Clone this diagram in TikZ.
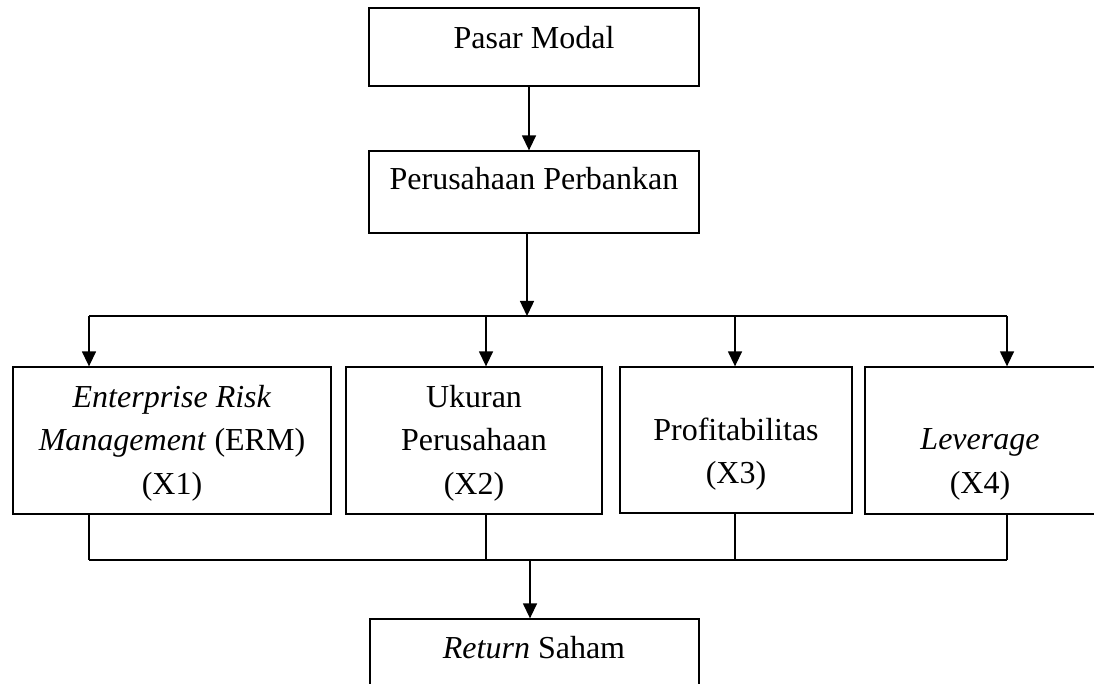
\documentclass[tikz,border=0pt]{standalone}
\usepackage{fontspec}
\setmainfont{Liberation Serif}
\usetikzlibrary{arrows.meta}
\begin{document}
\begin{tikzpicture}[x=1pt,y=-1pt,
  box/.style={draw,line width=1.3pt,inner sep=0pt,minimum width=#1},
  lbl/.style={align=center,inner sep=0pt,font=\fontsize{32}{43.5}\selectfont},
  ln/.style={line width=1.4pt},
  arr/.style={line width=1.4pt,-{Triangle[length=15pt,width=14pt]}}]
\useasboundingbox (0,0) rectangle (1094,684);
% boxes
\node[box=330,minimum height=78] (pm) at (534,47) {};
\node[box=330,minimum height=82] (pb) at (534,192) {};
\node[box=318,minimum height=147] (x1) at (172,440.5) {};
\node[box=256,minimum height=147] (x2) at (474,440.5) {};
\node[box=232,minimum height=146] (x3) at (736,440) {};
\node[box=232,minimum height=147] (x4) at (981,440.5) {};
\node[box=329,minimum height=82] (rs) at (534.5,660) {};
% texts
\node[lbl,anchor=base] (tpm) at (534,49) {Pasar Modal};
\node[lbl,anchor=base] (tpb) at (534,190) {Perusahaan Perbankan};
\node[lbl] (tx1) at (172,443) {\textit{Enterprise Risk}\\\textit{Management} (ERM)\\(X1)};
\node[lbl] (tx2) at (474,443) {Ukuran\\Perusahaan\\(X2)};
\node[lbl] (tx3) at (736,454) {Profitabilitas\\(X3)};
\node[lbl] (tx4) at (980,464.5) {\textit{Leverage}\\(X4)};
\node[lbl,anchor=base] (trs) at (534,658) {\textit{Return} Saham};
% bus coordinates
\coordinate (t0) at (527,316);
\coordinate (b1) at (89,316);
\coordinate (b2) at (486,316);
\coordinate (b3) at (735,316);
\coordinate (b4) at (1007,316);
\coordinate (c1) at (89,560);
\coordinate (c2) at (486,560);
\coordinate (c3) at (735,560);
\coordinate (c4) at (1007,560);
\coordinate (c0) at (530,560);
% connectors
\draw[arr] ([xshift=-5pt]pm.south) -- ([xshift=-5pt]pb.north);
\draw[arr] (pb.south -| t0) -- (t0);
\draw[ln] (b1) -- (b4);
\draw[arr] (b1) -- (b1 |- x1.north);
\draw[arr] (b2) -- (b2 |- x2.north);
\draw[arr] (b3) -- (b3 |- x3.north);
\draw[arr] (b4) -- (b4 |- x4.north);
\draw[ln] (c1 |- x1.south) -- (c1);
\draw[ln] (c2 |- x2.south) -- (c2);
\draw[ln] (c3 |- x3.south) -- (c3);
\draw[ln] (c4 |- x4.south) -- (c4);
\draw[ln] (c1) -- (c4);
\draw[arr] (c0) -- (c0 |- rs.north);
\end{tikzpicture}
\end{document}
